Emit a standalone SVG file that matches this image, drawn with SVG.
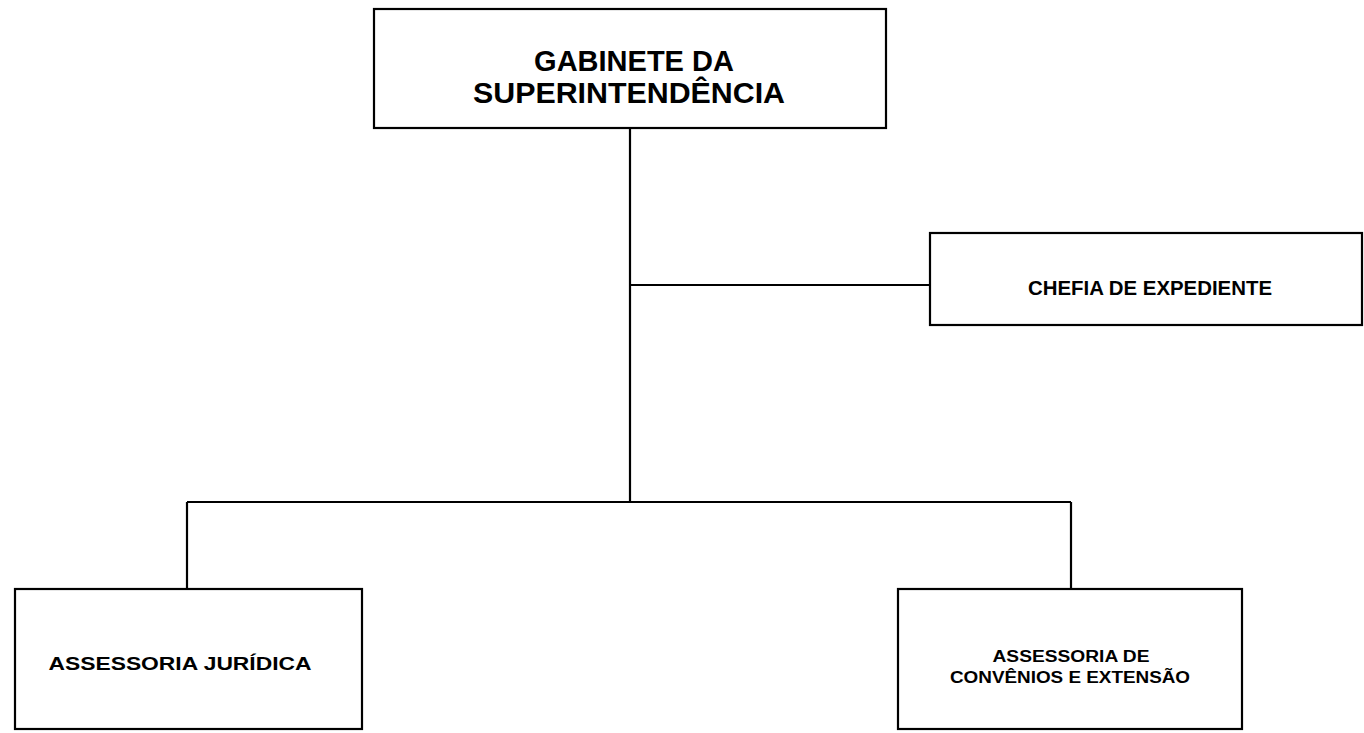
<svg xmlns="http://www.w3.org/2000/svg" width="1364" height="733" viewBox="0 0 1364 733">
<style>
.box{fill:#fff;stroke:#000;stroke-width:2.2}
.ln{fill:none;stroke:#000;stroke-width:2.2}
.t{font-family:"Liberation Sans",Arial,sans-serif;font-weight:bold;fill:#000;text-anchor:middle}
</style>
<rect width="1364" height="733" fill="#fff"/>
<g id="connectors">
<line class="ln" x1="630" y1="128" x2="630" y2="502"/>
<line class="ln" x1="630" y1="285" x2="930" y2="285"/>
<line class="ln" x1="187" y1="502" x2="1071" y2="502"/>
<line class="ln" x1="187" y1="502" x2="187" y2="589"/>
<line class="ln" x1="1071" y1="502" x2="1071" y2="589"/>
</g>
<g id="gabinete">
<rect class="box" x="374" y="9" width="512" height="119"/>
<text class="t" x="634" y="71" font-size="29">GABINETE DA</text>
<text class="t" x="629" y="103" font-size="29" textLength="312" lengthAdjust="spacingAndGlyphs">SUPERINTENDÊNCIA</text>
</g>
<g id="chefia">
<rect class="box" x="930" y="233" width="432" height="92"/>
<text class="t" x="1150" y="295" font-size="20" textLength="244" lengthAdjust="spacingAndGlyphs">CHEFIA DE EXPEDIENTE</text>
</g>
<g id="juridica">
<rect class="box" x="15" y="589" width="347" height="140"/>
<text class="t" x="180" y="670" font-size="18" textLength="263" lengthAdjust="spacingAndGlyphs">ASSESSORIA JURÍDICA</text>
</g>
<g id="convenios">
<rect class="box" x="898" y="589" width="344" height="140"/>
<text class="t" x="1071" y="662" font-size="16" textLength="157" lengthAdjust="spacingAndGlyphs">ASSESSORIA DE</text>
<text class="t" x="1070" y="683" font-size="16" textLength="240" lengthAdjust="spacingAndGlyphs">CONVÊNIOS E EXTENSÃO</text>
</g>
</svg>
